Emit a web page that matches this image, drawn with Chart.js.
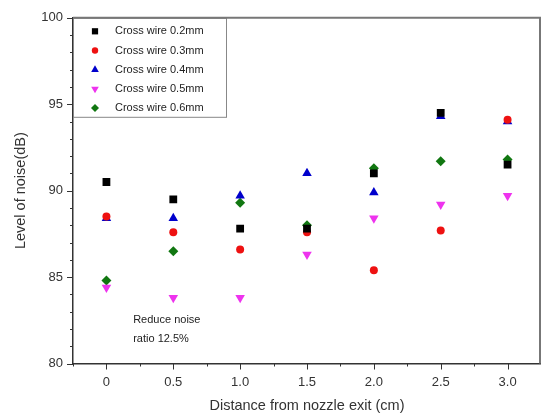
<!DOCTYPE html>
<html>
<head>
<meta charset="utf-8">
<script src="https://cdn.jsdelivr.net/npm/chart.js@4.4.1/dist/chart.umd.min.js"></script>
<style>
    html, body { margin: 0; padding: 0; background: #fff; }
    #wrap { width: 541px; height: 416px; }
</style>
</head>
<body>
<div id="wrap"><canvas id="noiseChart" width="541" height="416"></canvas></div>
<script>
// distance from nozzle exit (cm)
const distances = [0, 0.5, 1.0, 1.5, 2.0, 2.5, 3.0];

// level of noise (dB) per cross wire diameter
const wire_02 = [90.5, 89.5, 87.8, 87.8, 91.0, 94.5, 91.5];
const wire_03 = [88.5, 87.6, 86.6, 87.6, 85.4, 87.7, 94.1];
const wire_04 = [88.4, 88.4, 89.7, 91.0, 89.9, 94.3, 94.0];
const wire_05 = [84.4, 83.8, 83.8, 86.3, 88.4, 89.2, 89.7];
const wire_06 = [84.8, 86.5, 89.3, 88.0, 91.3, 91.7, 91.8];

const series_labels = [
    "Cross wire 0.2mm",
    "Cross wire 0.3mm",
    "Cross wire 0.4mm",
    "Cross wire 0.5mm",
    "Cross wire 0.6mm",
];

const note_lines = ["Reduce noise", "ratio 12.5%"];

const FONT = "'Liberation Sans', Arial, sans-serif";

function toPoints(values) {
    return values.map((v, i) => ({ x: distances[i], y: v }));
}

function makeDataset(label, values, color, style, radius, rotation) {
    return {
        label: label,
        data: toPoints(values),
        showLine: false,
        pointStyle: style,
        pointRadius: radius,
        pointHoverRadius: radius,
        pointRotation: rotation || 0,
        pointBackgroundColor: color,
        pointBorderColor: color,
        pointBorderWidth: 0,
        backgroundColor: color,
        borderColor: color,
    };
}

// ticks (major + minor), the top/right frame lines and the note text
const framePlugin = {
    id: "framePlugin",
    afterDraw(chart) {
        const ctx = chart.ctx;
        const area = chart.chartArea;
        const xs = chart.scales.x;
        const ys = chart.scales.y;
        ctx.save();
        ctx.strokeStyle = "#333";
        ctx.lineWidth = 1;
        ctx.beginPath();
        xs.ticks.forEach((t) => {
            const v = Math.round(t.value * 100) / 100;
            const major = Math.abs(v * 2 - Math.round(v * 2)) < 1e-6;
            const px = Math.round(xs.getPixelForValue(v)) + 0.5;
            ctx.moveTo(px, area.bottom);
            ctx.lineTo(px, area.bottom + (major ? 6 : 3));
        });
        ys.ticks.forEach((t) => {
            const major = t.value % 5 === 0;
            const py = Math.round(ys.getPixelForValue(t.value)) + 0.5;
            ctx.moveTo(area.left, py);
            ctx.lineTo(area.left - (major ? 6 : 3), py);
        });
        ctx.stroke();

        ctx.strokeStyle = "#777";
        ctx.lineWidth = 2;
        ctx.beginPath();
        ctx.moveTo(area.left, area.top);
        ctx.lineTo(area.right - 1, area.top);
        ctx.lineTo(area.right - 1, area.bottom);
        ctx.stroke();

        ctx.fillStyle = "#222";
        ctx.font = "11px " + FONT;
        ctx.textBaseline = "middle";
        ctx.textAlign = "left";
        ctx.fillText(note_lines[0], xs.getPixelForValue(0.2), ys.getPixelForValue(82.5));
        ctx.fillText(note_lines[1], xs.getPixelForValue(0.2), ys.getPixelForValue(81.4));
        ctx.restore();
    },
};

// boxed legend in the top-left corner of the plot
const legendBoxPlugin = {
    id: "legendBoxPlugin",
    afterDatasetsDraw(chart) {
        const ctx = chart.ctx;
        const area = chart.chartArea;
        const left = area.left;
        const top = area.top;
        ctx.save();
        ctx.fillStyle = "#fff";
        ctx.fillRect(left, top, 154, 99);
        ctx.strokeStyle = "#888";
        ctx.lineWidth = 1;
        ctx.strokeRect(left + 0.5, top + 0.5, 153, 99);
        chart.data.datasets.forEach((ds, i) => {
            const y = top + 13.5 + i * 19.2;
            ctx.fillStyle = ds.pointBackgroundColor;
            ctx.strokeStyle = ds.pointBorderColor;
            Chart.helpers.drawPoint(ctx, {
                pointStyle: ds.pointStyle,
                rotation: ds.pointRotation,
                radius: ds.pointRadius * 0.8,
                borderWidth: 0,
            }, left + 22, y);
            ctx.fillStyle = "#222";
            ctx.font = "11px " + FONT;
            ctx.textBaseline = "middle";
            ctx.fillText(ds.label, left + 42, y);
        });
        ctx.restore();
    },
};

function drawNoiseChart() {
    const chart_element = document.getElementById("noiseChart");
    new Chart(chart_element, {
        type: "scatter",
        data: {
            datasets: [
                makeDataset(series_labels[0], wire_02, "#000000", "rect", 5.5),
                makeDataset(series_labels[1], wire_03, "#ee1111", "circle", 4),
                makeDataset(series_labels[2], wire_04, "#0000cc", "triangle", 5.5),
                makeDataset(series_labels[3], wire_05, "#ee33ee", "triangle", 5.5, 180),
                makeDataset(series_labels[4], wire_06, "#117711", "rectRot", 5),
            ],
        },
        plugins: [framePlugin, legendBoxPlugin],
        options: {
            responsive: false,
            animation: false,
            events: [],
            layout: { autoPadding: false, padding: { top: 16, right: 0, left: 0, bottom: 0 } },
            plugins: {
                legend: { display: false },
                tooltip: { enabled: false },
            },
            scales: {
                x: {
                    type: "linear",
                    min: -0.25,
                    max: 3.25,
                    afterFit(scale) {
                        scale.height = 52.5;
                        scale.paddingLeft = 0;
                        scale.paddingRight = 0;
                    },
                    border: { display: true, color: "#333", width: 1.5 },
                    grid: { drawOnChartArea: false, drawTicks: false },
                    ticks: {
                        stepSize: 0.25,
                        autoSkip: false,
                        maxRotation: 0,
                        padding: 11,
                        color: "#333",
                        font: { family: FONT, size: 13 },
                        callback(value) {
                            const v = Math.round(value * 100) / 100;
                            if (v < 0 || Math.abs(v * 2 - Math.round(v * 2)) > 1e-6) return "";
                            return v === 0 ? "0" : v.toFixed(1);
                        },
                    },
                    title: {
                        display: true,
                        text: "Distance from nozzle exit (cm)",
                        color: "#333",
                        font: { family: FONT, size: 14.5 },
                        padding: { top: 0, bottom: 1 },
                    },
                },
                y: {
                    type: "linear",
                    min: 80,
                    max: 100,
                    afterFit(scale) { scale.width = 73; },
                    border: { display: true, color: "#333", width: 1.5 },
                    grid: { drawOnChartArea: false, drawTicks: false },
                    ticks: {
                        stepSize: 1,
                        autoSkip: false,
                        padding: 10,
                        color: "#333",
                        font: { family: FONT, size: 13 },
                        callback(value) {
                            return value % 5 === 0 ? String(value) : "";
                        },
                    },
                    title: {
                        display: true,
                        text: "Level of noise(dB)",
                        color: "#333",
                        font: { family: FONT, size: 14.5 },
                        padding: { top: 12, bottom: 0 },
                    },
                },
            },
        },
    });
}

drawNoiseChart();
</script>
</body>
</html>
